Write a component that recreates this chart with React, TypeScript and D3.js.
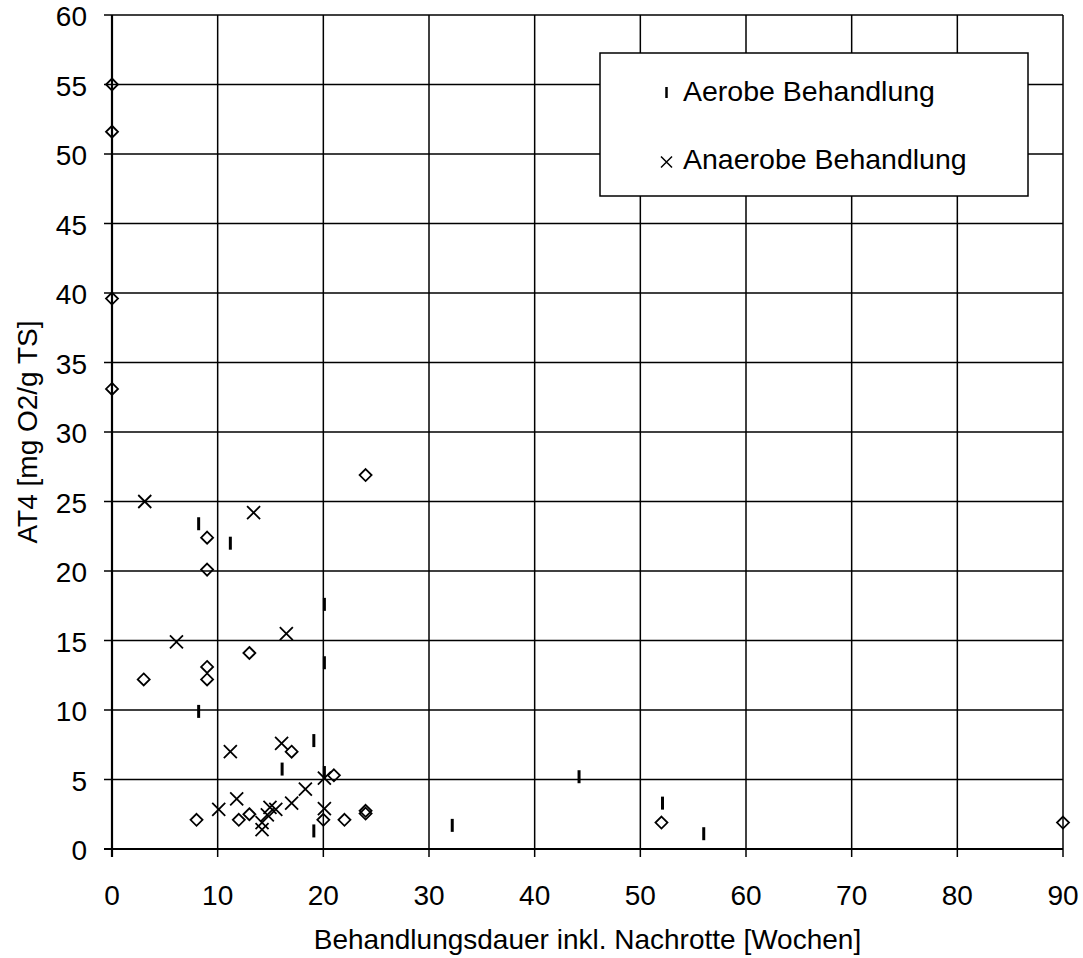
import React from 'react';
import * as d3 from 'd3';

// values
const originalX = [0, 0, 0, 0, 24, 9, 9, 3, 9, 9, 13, 17, 21, 8, 12, 13, 20, 22, 24, 24, 52, 90];
const originalY = [55, 51.6, 39.6, 33.1, 26.9, 22.4, 20.1, 12.2, 13.1, 12.2, 14.1, 7.0, 5.3, 2.1, 2.1, 2.5, 2.1, 2.1, 2.75, 2.55, 1.9, 1.9];

const aerobeX = [8.2, 11.2, 20.1, 20.1, 8.2, 19.1, 16.1, 20.1, 19.1, 32.2, 44.2, 52.1, 56];
const aerobeY = [23.4, 22.0, 17.6, 13.4, 9.9, 7.8, 5.75, 5.5, 1.3, 1.7, 5.2, 3.3, 1.1];

const anaerobeX = [3.1, 13.4, 6.1, 16.5, 11.2, 16.05, 20.1, 18.3, 11.8, 10.1, 17.0, 14.95, 15.5, 14.7, 14.2, 14.2, 20.1];
const anaerobeY = [25.0, 24.2, 14.9, 15.5, 7.0, 7.6, 5.1, 4.3, 3.6, 2.85, 3.3, 3.0, 2.85, 2.45, 1.9, 1.4, 2.9];

const xTicks = [0, 10, 20, 30, 40, 50, 60, 70, 80, 90];
const yTicks = [0, 5, 10, 15, 20, 25, 30, 35, 40, 45, 50, 55, 60];

const legendLabels = ['Aerobe Behandlung', 'Anaerobe Behandlung'];

const W = 1083;
const H = 958;
const left = 112, right = 1063, top = 15, bottom = 849;
const font = "'Liberation Sans', Arial, sans-serif";

export default function App() {
  const x = d3.scaleLinear().domain([0, 90]).range([left, right]);
  const y = d3.scaleLinear().domain([0, 60]).range([bottom, top]);

  const diamond = (cx: number, cy: number, r = 6) =>
    `M${cx},${cy - r}L${cx + r},${cy}L${cx},${cy + r}L${cx - r},${cy}Z`;
  const cross = (cx: number, cy: number, r = 6.5) =>
    `M${cx - r},${cy - r}L${cx + r},${cy + r}M${cx - r},${cy + r}L${cx + r},${cy - r}`;

  return (
    <svg width={W} height={H} style={{ position: 'absolute', left: 0, top: 0, background: '#fff' }}>
      {/* grid */}
      <g stroke="#000" strokeWidth={1.5}>
        {xTicks.map((t) => (
          <line key={'gx' + t} x1={x(t)} x2={x(t)} y1={top} y2={bottom + 8} />
        ))}
        {yTicks.map((t) => (
          <line key={'gy' + t} x1={left - 8} x2={right} y1={y(t)} y2={y(t)} />
        ))}
      </g>
      {/* axes */}
      <line x1={left} x2={left} y1={top} y2={bottom + 8} stroke="#000" strokeWidth={2.2} />
      <line x1={left - 8} x2={right} y1={bottom} y2={bottom} stroke="#000" strokeWidth={2.2} />

      {/* tick labels and titles */}
      <g fontFamily={font} fontSize={28} fill="#000">
        {yTicks.map((t) => (
          <text key={'ly' + t} x={87} y={y(t) + 11}
            textAnchor="end">{t}</text>
        ))}
        {xTicks.map((t) => (
          <text key={'lx' + t} x={x(t)} y={905} textAnchor="middle">{t}</text>
        ))}
        <text x={(left + right) / 2} y={949} textAnchor="middle">
          Behandlungsdauer inkl. Nachrotte [Wochen]
        </text>
        <text transform={`translate(37,${(top + bottom) / 2}) rotate(-90)`} textAnchor="middle">
          AT4 [mg O2/g TS]
        </text>
      </g>

      {/* series without legend entry: open diamonds */}
      <g fill="none" stroke="#000" strokeWidth={1.8}>
        {originalX.map((v, i) => (
          <path key={'d' + i} d={diamond(x(v), y(originalY[i]))} />
        ))}
      </g>
      {/* aerobe: short vertical dashes */}
      <g stroke="#000" strokeWidth={3}>
        {aerobeX.map((v, i) => (
          <line key={'a' + i} x1={x(v)} x2={x(v)} y1={y(aerobeY[i]) - 6.5} y2={y(aerobeY[i]) + 6.5} />
        ))}
      </g>
      {/* anaerobe: crosses */}
      <g fill="none" stroke="#000" strokeWidth={1.8}>
        {anaerobeX.map((v, i) => (
          <path key={'x' + i} d={cross(x(v), y(anaerobeY[i]))} />
        ))}
      </g>

      {/* legend */}
      <rect x={600} y={53} width={428} height={143} fill="#fff" stroke="#000" strokeWidth={1.5} />
      <line x1={666.5} x2={666.5} y1={87} y2={98} stroke="#000" strokeWidth={2.5} />
      <path d={cross(666.5, 162, 5.5)} stroke="#000" strokeWidth={1.5} fill="none" />
      <g fontFamily={font} fontSize={28.5} fill="#000">
        <text x={683} y={101}>{legendLabels[0]}</text>
        <text x={683} y={169}>{legendLabels[1]}</text>
      </g>
    </svg>
  );
}
